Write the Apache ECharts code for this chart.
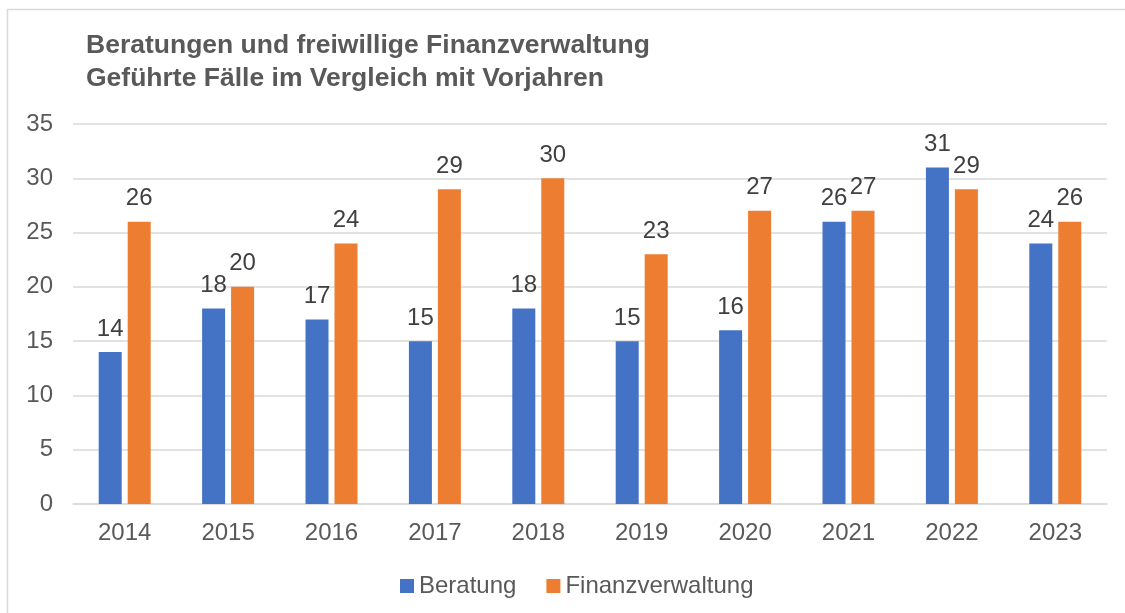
<!DOCTYPE html>
<html>
<head>
<meta charset="utf-8">
<script src="https://cdn.jsdelivr.net/npm/echarts@6/dist/echarts.min.js"></script>
<style>
  html, body { margin: 0; padding: 0; background: #fff; }
  #chart { width: 1125px; height: 613px; }
</style>
</head>
<body>
<div id="chart"></div>
<script>
// Daten
const years = ['2014', '2015', '2016', '2017', '2018', '2019', '2020', '2021', '2022', '2023'];
const beratung = [14, 18, 17, 15, 18, 15, 16, 26, 31, 24];
const finanzverwaltung = [26, 20, 24, 29, 30, 23, 27, 27, 29, 26];
const yTicks = [0, 5, 10, 15, 20, 25, 30, 35];

const font = 'Liberation Sans, Arial, sans-serif';

let myChart = echarts.init(document.getElementById('chart'));

function barSeries(name, data, color) {
    return {
        name: name,
        type: 'bar',
        data: data,
        barWidth: 23,
        barGap: '26%',
        itemStyle: { color: color },
        label: {
            show: true,
            position: 'top',
            distance: 11,
            color: '#404040',
            fontSize: 24,
            fontFamily: font
        }
    };
}

let option = {
    animation: false,
    backgroundColor: '#fff',
    graphic: [{
        type: 'rect',
        shape: { x: 7.5, y: 9.5, width: 1300, height: 800 },
        style: { fill: 'none', stroke: '#d9d9d9', lineWidth: 1.5 },
        silent: true
    }],
    title: {
        text: 'Beratungen und freiwillige Finanzverwaltung\nGeführte Fälle im Vergleich mit Vorjahren',
        left: 86,
        top: 29,
        padding: 0,
        textStyle: {
            fontFamily: font,
            fontSize: 26.5,
            fontWeight: 'bold',
            color: '#595959',
            lineHeight: 33
        }
    },
    legend: {
        data: ['Beratung', 'Finanzverwaltung'],
        left: 395,
        top: 569,
        icon: 'rect',
        itemWidth: 14,
        itemHeight: 14,
        itemGap: 30,
        textStyle: { fontFamily: font, fontSize: 24, color: '#595959' }
    },
    grid: { left: 73, right: 18, top: 124, bottom: 109, containLabel: false },
    xAxis: {
        type: 'category',
        data: years,
        axisTick: { show: false },
        axisLine: { lineStyle: { color: '#d9d9d9', width: 1.5 } },
        axisLabel: { margin: 17, fontFamily: font, fontSize: 24, color: '#595959' }
    },
    yAxis: {
        type: 'value',
        min: yTicks[0],
        max: yTicks[yTicks.length - 1],
        interval: 5,
        axisLine: { show: false },
        axisTick: { show: false },
        splitLine: { lineStyle: { color: '#d9d9d9', width: 1.5 } },
        axisLabel: { margin: 20, fontFamily: font, fontSize: 24, color: '#595959' }
    },
    series: [
        barSeries('Beratung', beratung, '#4472C4'),
        barSeries('Finanzverwaltung', finanzverwaltung, '#ED7D31')
    ]
};
myChart.setOption(option);
</script>
</body>
</html>
